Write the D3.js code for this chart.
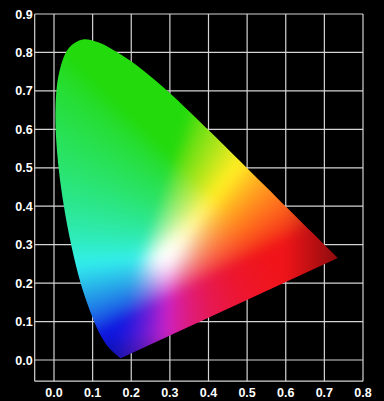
<!DOCTYPE html>
<html>
<head>
<meta charset="utf-8">
<script src="https://cdn.jsdelivr.net/npm/d3@7"></script>
<style>
html, body { margin: 0; background: #000; }
svg { display: block; }
.tick text { font-family: "Liberation Sans", Arial, sans-serif; font-weight: bold; font-size: 12.5px; fill: #fff; }
</style>
</head>
<body>
<svg id="chart" width="384" height="401"></svg>
<script>
var xTicks = [0.0, 0.1, 0.2, 0.3, 0.4, 0.5, 0.6, 0.7, 0.8];
var yTicks = [0.0, 0.1, 0.2, 0.3, 0.4, 0.5, 0.6, 0.7, 0.8, 0.9];

// CIE 1931 spectral locus, 380..700 nm
var wavelengths = [380, 385, 390, 395, 400, 405, 410, 415, 420, 425, 430, 435, 440, 445, 450, 455, 460, 465, 470, 475,
	480, 485, 490, 495, 500, 505, 510, 515, 520, 525, 530, 535, 540, 545, 550, 555, 560, 565, 570, 575,
	580, 585, 590, 595, 600, 605, 610, 615, 620, 625, 630, 635, 640, 645, 650, 655, 660, 665, 670, 675, 680, 700];
var locusX = [0.1741, 0.1740, 0.1738, 0.1736, 0.1733, 0.1730, 0.1726, 0.1721, 0.1714, 0.1703, 0.1689, 0.1669, 0.1644, 0.1611, 0.1566, 0.1510, 0.1440, 0.1355, 0.1241, 0.1096,
	0.0913, 0.0687, 0.0454, 0.0235, 0.0082, 0.0039, 0.0139, 0.0389, 0.0743, 0.1142, 0.1547, 0.1929, 0.2296, 0.2658, 0.3016, 0.3373, 0.3731, 0.4087, 0.4441, 0.4788,
	0.5125, 0.5448, 0.5752, 0.6029, 0.6270, 0.6482, 0.6658, 0.6801, 0.6915, 0.7006, 0.7079, 0.7140, 0.7190, 0.7230, 0.7260, 0.7283, 0.7300, 0.7311, 0.7320, 0.7327, 0.7334, 0.7347];
var locusY = [0.0050, 0.0050, 0.0049, 0.0049, 0.0048, 0.0048, 0.0048, 0.0048, 0.0051, 0.0058, 0.0069, 0.0086, 0.0109, 0.0138, 0.0177, 0.0227, 0.0297, 0.0399, 0.0578, 0.0868,
	0.1327, 0.2007, 0.2950, 0.4127, 0.5384, 0.6548, 0.7502, 0.8120, 0.8338, 0.8262, 0.8059, 0.7816, 0.7543, 0.7243, 0.6923, 0.6589, 0.6245, 0.5896, 0.5547, 0.5202,
	0.4866, 0.4544, 0.4242, 0.3965, 0.3725, 0.3514, 0.3340, 0.3197, 0.3083, 0.2993, 0.2920, 0.2859, 0.2809, 0.2770, 0.2740, 0.2717, 0.2700, 0.2689, 0.2680, 0.2673, 0.2666, 0.2653];

// colour anchors of the fill (xy of the R, G, B corners and the white spot), display colours
var primaryX = [0.55, 0.31, 0.168];
var primaryY = [0.29, 0.52, 0.10];
var whiteXY = [0.30, 0.27];
var primaryRGB = [[240, 20, 24], [35, 218, 12], [15, 22, 225]];

var locus = wavelengths.map(function(w, i) { return { nm: w, x: locusX[i], y: locusY[i] }; });

var svg = d3.select("#chart");

var x = d3.scaleLinear().domain([0, 0.8]).range([54, 363]);
var y = d3.scaleLinear().domain([0, 0.9]).range([360, 14]);

var pLeft = x(-0.05), pRight = x(0.8), pTop = y(0.9), pBottom = y(-0.055);

// grid
var grid = svg.append("g").attr("stroke", "#d4d4d4").attr("stroke-width", 1.2);
grid.selectAll("line.v")
	.data(xTicks)
	.enter().append("line")
	.attr("x1", function(d) { return x(d); })
	.attr("x2", function(d) { return x(d); })
	.attr("y1", pTop).attr("y2", pBottom);
grid.selectAll("line.h")
	.data(yTicks)
	.enter().append("line")
	.attr("y1", function(d) { return y(d); })
	.attr("y2", function(d) { return y(d); })
	.attr("x1", pLeft).attr("x2", pRight);
grid.append("line").attr("x1", pLeft).attr("x2", pLeft).attr("y1", pTop).attr("y2", pBottom);
grid.append("line").attr("x1", pLeft).attr("x2", pRight).attr("y1", pBottom).attr("y2", pBottom);

// colour field
function bary(px, py) {
	var xa = primaryX[0], ya = primaryY[0], xb = primaryX[1], yb = primaryY[1], xc = primaryX[2], yc = primaryY[2];
	var det = (yb - yc) * (xa - xc) + (xc - xb) * (ya - yc);
	var l1 = ((yb - yc) * (px - xc) + (xc - xb) * (py - yc)) / det;
	var l2 = ((yc - ya) * (px - xc) + (xa - xc) * (py - yc)) / det;
	return [l1, l2, 1 - l1 - l2];
}
var wb = bary(whiteXY[0], whiteXY[1]);

var w = Math.round(pRight - pLeft), h = Math.round(pBottom - pTop);
var canvas = document.createElement("canvas");
canvas.width = w; canvas.height = h;
var ctx = canvas.getContext("2d");
var img = ctx.createImageData(w, h);
for (var j = 0; j < h; j++) {
	for (var i = 0; i < w; i++) {
		var cx = x.invert(pLeft + i + 0.5), cy = y.invert(pTop + j + 0.5);
		var l = bary(cx, cy).map(function(v, n) { return Math.max(0, v / wb[n]); });
		var m = Math.max(l[0], l[1], l[2]) || 1;
		var g = l[1] / m;
		var e = 1.25 - 0.65 * g;
		var a = [Math.pow(l[0] / m, e), Math.pow(g, 0.6), Math.pow(l[2] / m, e)];
		// white glow, stretched along the diagonal
		var du = (cx - whiteXY[0]) + (cy - whiteXY[1]), dv = (cx - whiteXY[0]) - (cy - whiteXY[1]);
		var glow = 0.55 * Math.exp(-(du * du) / 0.012 - (dv * dv) / 0.004);
		a = a.map(function(v) { return v + (1 - v) * glow; });
		// violet band between blue and red is a bit darker, and so are the two ends
		var f = (1 - 0.2 * Math.min(a[0], a[2]) * (1 - a[1]))
			* (1 - 0.4 * Math.max(0, Math.min(1, (cx - 0.6) / 0.13)))
			* (1 - 0.25 * Math.max(0, Math.min(1, (0.07 - cy) / 0.07)));
		var k = (j * w + i) * 4;
		for (var c = 0; c < 3; c++) {
			var s = 0;
			for (var p = 0; p < 3; p++) s += a[p] * primaryRGB[p][c];
			img.data[k + c] = Math.min(255, s) * f;
		}
		img.data[k + 3] = 255;
	}
}
ctx.putImageData(img, 0, 0);

// soften like the original
var soft = document.createElement("canvas");
soft.width = w; soft.height = h;
var sctx = soft.getContext("2d");
sctx.filter = "blur(6px)";
sctx.drawImage(canvas, 0, 0);

var defs = svg.append("defs");
defs.append("clipPath").attr("id", "horseshoe")
	.append("path")
	.attr("d", d3.line()
		.x(function(d) { return x(d.x); })
		.y(function(d) { return y(d.y); })
		.curve(d3.curveCatmullRom)(locus) + "Z");

svg.append("g").attr("clip-path", "url(#horseshoe)")
	.append("image")
	.attr("x", pLeft).attr("y", pTop)
	.attr("width", w).attr("height", h)
	.attr("href", soft.toDataURL());

// axes labels
svg.append("g").attr("class", "tick")
	.selectAll("text")
	.data(yTicks)
	.enter().append("text")
	.attr("x", pLeft - 2)
	.attr("y", function(d) { return y(d); })
	.attr("dy", "0.36em")
	.attr("text-anchor", "end")
	.text(function(d) { return d.toFixed(1); });

svg.append("g").attr("class", "tick")
	.selectAll("text")
	.data(xTicks)
	.enter().append("text")
	.attr("x", function(d) { return x(d); })
	.attr("y", 397)
	.attr("text-anchor", "middle")
	.text(function(d) { return d.toFixed(1); });
</script>
</body>
</html>
